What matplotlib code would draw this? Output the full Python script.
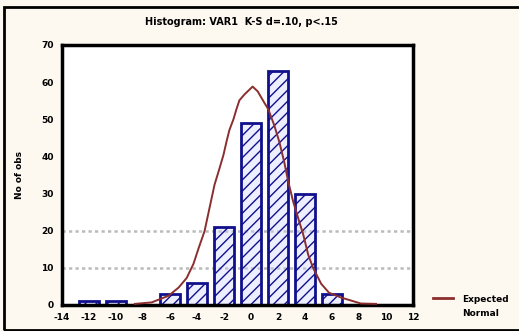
import matplotlib.pyplot as plt
from matplotlib.lines import Line2D
from matplotlib.patches import Rectangle

# histogram counts per bin (bin index 0..11)
bin_pos = [0, 1, 2, 3, 4, 5, 6, 7, 8, 9, 10, 11]
counts = [1, 1, 0, 3, 6, 21, 49, 63, 30, 3, 0, 0]

# expected normal curve (bin index units, count)
curve_x = [1.70, 2.32, 2.95, 3.32, 3.62, 3.87, 4.06, 4.28, 4.46, 4.65, 4.83, 4.98, 5.09,
           5.20, 5.35, 5.46, 5.57, 5.76, 6.06, 6.25, 6.49, 6.64, 6.86, 7.05, 7.23, 7.38,
           7.56, 7.75, 7.93, 8.12, 8.30, 8.60, 8.89, 9.34, 10.07, 10.63]
curve_y = [0.3, 0.7, 2.5, 4.7, 7.3, 11.1, 15.3, 19.9, 26.0, 32.4, 36.7, 40.4, 43.9,
           47.1, 50.0, 52.7, 55.1, 56.7, 58.8, 57.5, 54.5, 52.7, 48.4, 43.9, 38.5, 33.2,
           27.9, 23.3, 19.1, 13.5, 10.0, 5.7, 3.3, 2.0, 0.4, 0.3]

xtick_pos = [-1, 0, 1, 2, 3, 4, 5, 6, 7, 8, 9, 10, 11, 12]
xtick_labels = ['-14', '-12', '-10', '-8', '-6', '-4', '-2', '0', '2', '4', '6', '8', '10', '12']
ytick_pos = [0, 10, 20, 30, 40, 50, 60, 70]
grid_levels = [10, 20]

bg = '#fdf8f0'
plt.rcParams['hatch.linewidth'] = 1.0

fig = plt.figure(figsize=(5.19, 3.31), dpi=100, facecolor=bg)
ax = fig.add_axes([62 / 519, 1 - 305 / 331, 351 / 519, 260 / 331])
ax.set_facecolor('white')

for g in grid_levels:
    ax.axhline(g, color='#bbbbbb', lw=1.8, ls=(0, (1.3, 1.3)), zorder=1)

ax.bar(bin_pos, counts, width=0.75, facecolor=(0.8, 0.82, 1.0, 0.35), edgecolor='#10108c',
       linewidth=2, hatch='///', zorder=2)
ax.plot(curve_x, curve_y, color='#8b2e2e', lw=1.4, zorder=3)

ax.set_xlim(-1, 12)
ax.set_ylim(0, 70)
ax.set_xticks(xtick_pos)
ax.set_xticklabels(xtick_labels)
ax.set_yticks(ytick_pos)
ax.tick_params(length=0, labelsize=6.5, pad=6)
for lab in ax.get_xticklabels() + ax.get_yticklabels():
    lab.set_fontweight('bold')
for s in ax.spines.values():
    s.set_linewidth(2.5)
    s.set_color('black')

ax.set_ylabel('No of obs', fontsize=6.5, fontweight='bold', labelpad=12)
fig.text(241 / 519, 1 - 22 / 331, 'Histogram: VAR1  K-S d=.10, p<.15', ha='center', va='center',
         fontsize=7, fontweight='bold')

# legend at right
fig.add_artist(Line2D([433 / 519, 453 / 519], [1 - 298 / 331, 1 - 298 / 331], color='#8b2e2e', lw=2))
fig.text(462 / 519, 1 - 300 / 331, 'Expected', fontsize=6.5, fontweight='bold', va='center')
fig.text(462 / 519, 1 - 313 / 331, 'Normal', fontsize=6.5, fontweight='bold', va='center')

# outer frame
fig.add_artist(Rectangle((4 / 519, 1 - 330 / 331), 1.0, 323 / 331, transform=fig.transFigure,
                         fill=False, edgecolor='black', lw=2))

fig.savefig('out.png', dpi=100, facecolor=bg)
